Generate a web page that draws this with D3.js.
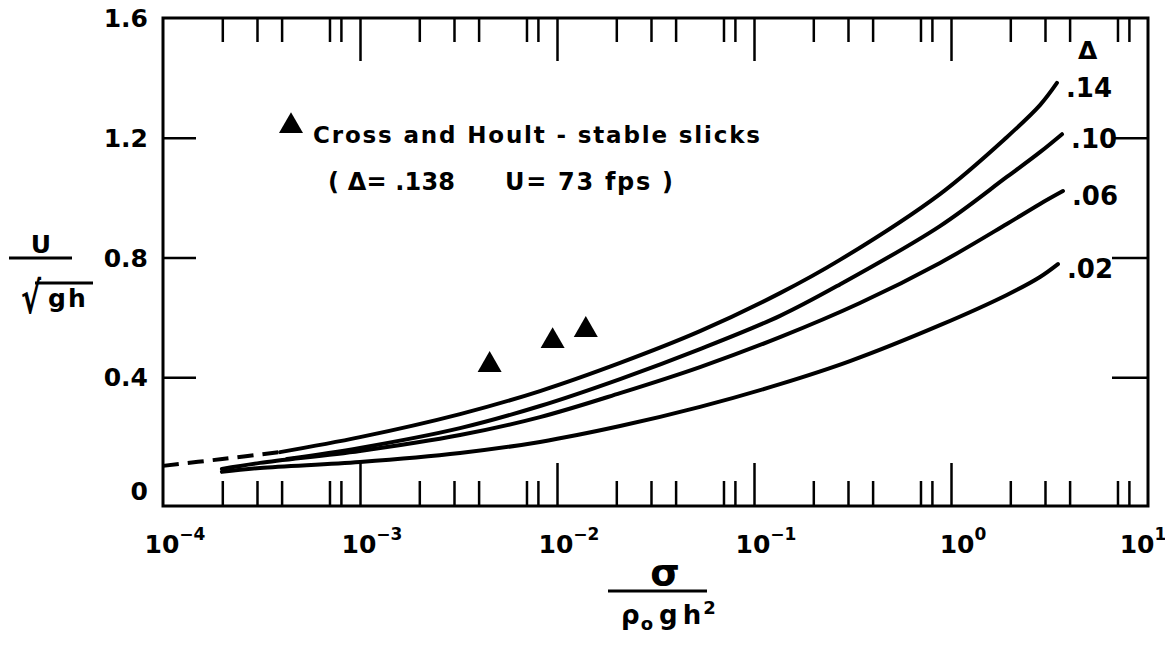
<!DOCTYPE html>
<html>
<head>
<meta charset="utf-8">
<script src="https://cdn.jsdelivr.net/npm/d3@7"></script>
<style>
  body { margin: 0; background: #fff; }
  svg { display: block; }
  text { font-family: "DejaVu Sans", sans-serif; font-weight: bold; fill: #000; }
</style>
</head>
<body>
<svg id="chart" width="1165" height="645"></svg>
<script>
// values: x = sigma / (rho0 g h^2), y = U / sqrt(gh)
const curve14 = [[3.93e-4, 0.150], [1e-3, 0.200], [3.22e-3, 0.277], [8.2e-3, 0.354], [2.09e-2, 0.448],
    [5.32e-2, 0.554], [0.1355, 0.681], [0.273, 0.792], [0.879, 1.012], [1.92, 1.202], [2.83, 1.309],
    [3.45, 1.383]];
const curve10 = [[4.26e-4, 0.127], [1e-3, 0.164], [3.22e-3, 0.230], [8.2e-3, 0.304], [2.09e-2, 0.394],
    [5.32e-2, 0.494], [0.1355, 0.605], [0.273, 0.710], [0.879, 0.905], [1.92, 1.069], [2.83, 1.152],
    [3.66, 1.212]];
const curve06 = [[1.99e-4, 0.094], [3.11e-4, 0.114], [1e-3, 0.154], [3.22e-3, 0.207], [8.2e-3, 0.267],
    [2.09e-2, 0.347], [5.32e-2, 0.434], [0.1355, 0.534], [0.345, 0.648], [0.879, 0.782], [1.92, 0.912],
    [2.83, 0.979], [3.70, 1.022]];
const curve02 = [[1.99e-4, 0.084], [3.11e-4, 0.097], [1e-3, 0.117], [3.22e-3, 0.147], [8.2e-3, 0.184],
    [2.09e-2, 0.237], [5.32e-2, 0.301], [0.1355, 0.377], [0.307, 0.454], [0.879, 0.574], [1.92, 0.675],
    [2.83, 0.735], [3.49, 0.778]];
const dashed14 = [[1e-4, 0.104], [2e-4, 0.127], [3.93e-4, 0.150]];

const curves = [curve14, curve10, curve06, curve02];
const deltaLabels = [".14", ".10", ".06", ".02"];

const crossHoult = [[4.55e-3, 0.441], [9.5e-3, 0.521], [1.4e-2, 0.558]];

const decades = [1e-4, 1e-3, 1e-2, 1e-1, 1e0, 1e1];
const decadeExp = ["\u22124", "\u22123", "\u22122", "\u22121", "0", "1"];
const minorSteps = [2, 3, 4, 7, 8];
const yTickValues = [0, 0.4, 0.8, 1.2, 1.6];
const yTickLabels = ["0", "0.4", "0.8", "1.2", "1.6"];
const ySideTicks = [0.4, 0.8, 1.2];

const svg = d3.select("#chart");
const m = { left: 163, right: 1148, top: 18, bottom: 506 };
const W = +svg.attr("width");

const x = d3.scaleLog().domain([1e-4, 1e1]).range([m.left, m.right]);
const y = d3.scaleLinear().domain([-0.03, 1.6]).range([m.bottom, m.top]);

const minorTicks = [];
decades.slice(0, -1).forEach(d => minorSteps.forEach(k => minorTicks.push(d * k)));
const innerDecades = decades.slice(1, -1);

// ticks along bottom and top, pointing inward
function tickAxis(axisFn, values, size, ty) {
    const g = svg.append("g")
        .attr("transform", `translate(0,${ty})`)
        .call(axisFn(x).tickValues(values).tickSize(size).tickFormat(""));
    g.select(".domain").remove();
}
tickAxis(d3.axisBottom, minorTicks, -25, m.bottom);
tickAxis(d3.axisBottom, innerDecades, -43, m.bottom);
tickAxis(d3.axisTop, minorTicks, -24, m.top);
tickAxis(d3.axisTop, innerDecades, -43, m.top);

// y ticks on both sides
const yl = svg.append("g").attr("transform", `translate(${m.left},0)`)
    .call(d3.axisLeft(y).tickValues(ySideTicks).tickSize(-33).tickFormat(""));
yl.select(".domain").remove();
const yr = svg.append("g").attr("transform", `translate(${m.right},0)`)
    .call(d3.axisRight(y).tickValues(ySideTicks).tickSize(-36).tickFormat(""));
yr.select(".domain").remove();
svg.selectAll(".tick line").attr("stroke", "#000").attr("stroke-width", 2.5);

// frame
svg.append("rect")
    .attr("x", m.left).attr("y", m.top)
    .attr("width", m.right - m.left).attr("height", m.bottom - m.top)
    .attr("fill", "none").attr("stroke", "#000").attr("stroke-width", 3);

// y tick labels
svg.append("g").selectAll("text")
    .data(yTickValues)
    .join("text")
    .attr("x", m.left - 15)
    .attr("y", d => y(d) - (d === 0 ? 6 : 0))
    .attr("dy", "0.36em")
    .attr("text-anchor", "end")
    .attr("font-size", 25)
    .text((d, i) => yTickLabels[i]);

// x tick labels 10^n
const xl = svg.append("g").selectAll("text")
    .data(decades)
    .join("text")
    .attr("x", d => Math.min(x(d) + 12, W - 22))
    .attr("y", 553)
    .attr("text-anchor", "middle")
    .attr("font-size", 25);
xl.append("tspan").text("10");
xl.append("tspan").attr("dy", -13).attr("font-size", 17).text((d, i) => decadeExp[i]);

// curves
const line = d3.line()
    .x(d => x(d[0]))
    .y(d => y(d[1]))
    .curve(d3.curveCatmullRom.alpha(0.5));

svg.append("g").selectAll("path")
    .data(curves)
    .join("path")
    .attr("d", line)
    .attr("fill", "none")
    .attr("stroke", "#000")
    .attr("stroke-width", 4)
    .attr("stroke-linecap", "round");

svg.append("path")
    .datum(dashed14)
    .attr("d", line)
    .attr("fill", "none")
    .attr("stroke", "#000")
    .attr("stroke-width", 4)
    .attr("stroke-dasharray", "16,9");

// curve labels
svg.append("g").selectAll("text")
    .data(curves)
    .join("text")
    .attr("x", d => x(d[d.length - 1][0]) + 9)
    .attr("y", d => y(d[d.length - 1][1]) + 14)
    .attr("font-size", 26)
    .text((d, i) => deltaLabels[i]);

svg.append("text")
    .attr("x", x(curve14[curve14.length - 1][0]) + 21)
    .attr("y", y(curve14[curve14.length - 1][1]) - 24)
    .attr("font-size", 25)
    .attr("font-weight", "normal")
    .text("\u0394");

// Cross and Hoult points
const tri = d3.symbol(d3.symbolTriangle, 250);
svg.append("g").selectAll("path")
    .data(crossHoult)
    .join("path")
    .attr("transform", d => `translate(${x(d[0])},${y(d[1])})`)
    .attr("d", tri)
    .attr("fill", "#000");

// legend
svg.append("path")
    .attr("transform", "translate(291,126)")
    .attr("d", tri)
    .attr("fill", "#000");
svg.append("text")
    .attr("x", 313).attr("y", 143)
    .attr("font-size", 23)
    .attr("textLength", 447)
    .text("Cross and Hoult - stable slicks");
svg.append("text")
    .attr("x", 328).attr("y", 190)
    .attr("font-size", 24)
    .attr("textLength", 127)
    .text("( \u0394= .138");
svg.append("text")
    .attr("x", 505).attr("y", 190)
    .attr("font-size", 24)
    .attr("textLength", 168)
    .text("U= 73 fps )");

// y axis title: U / sqrt(gh)
svg.append("text")
    .attr("x", 41).attr("y", 253)
    .attr("text-anchor", "middle")
    .attr("font-size", 25)
    .text("U");
svg.append("line")
    .attr("x1", 9).attr("x2", 72).attr("y1", 258).attr("y2", 258)
    .attr("stroke", "#000").attr("stroke-width", 3);
svg.append("text")
    .attr("transform", "translate(21,313) scale(1,1.45)")
    .attr("font-size", 30)
    .attr("font-weight", "normal")
    .text("\u221A");
svg.append("line")
    .attr("x1", 35).attr("x2", 93).attr("y1", 283).attr("y2", 283)
    .attr("stroke", "#000").attr("stroke-width", 3);
svg.append("text")
    .attr("x", 48).attr("y", 307)
    .attr("font-size", 25)
    .attr("letter-spacing", 2)
    .text("gh");

// x axis title: sigma / (rho0 g h^2)
svg.append("text")
    .attr("x", 665).attr("y", 585)
    .attr("text-anchor", "middle")
    .attr("font-size", 38)
    .attr("font-weight", "normal")
    .text("\u03C3");
svg.append("line")
    .attr("x1", 608).attr("x2", 707).attr("y1", 591).attr("y2", 591)
    .attr("stroke", "#000").attr("stroke-width", 3);
const xt = svg.append("text")
    .attr("x", 621).attr("y", 624)
    .attr("font-size", 26);
xt.append("tspan").text("\u03C1");
xt.append("tspan").attr("dy", 6).attr("dx", 1).attr("font-size", 18).text("o");
xt.append("tspan").attr("dy", -6).attr("dx", 6).text("g");
xt.append("tspan").attr("dx", 5).text("h");
xt.append("tspan").attr("dy", -10).attr("dx", 2).attr("font-size", 18).text("2");
</script>
</body>
</html>
